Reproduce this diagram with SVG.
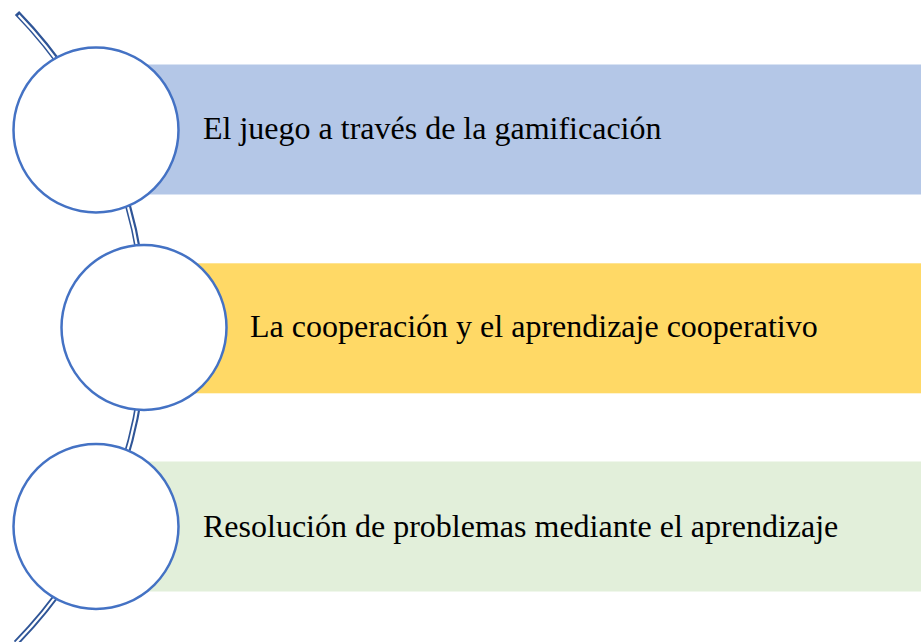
<svg xmlns="http://www.w3.org/2000/svg" width="921" height="642" viewBox="0 0 921 642">
<style>
.circ{fill:#FFFFFF;stroke:#4472C4;stroke-width:2.5}
.lbl{font-family:"Liberation Serif","Times New Roman",serif;font-size:32px;fill:#000000}
.arcO{fill:none;stroke:#2F5597;stroke-width:6}
.arcI{fill:none;stroke:#FFFFFF;stroke-width:2.2}
</style>
<rect width="921" height="642" fill="#FFFFFF"/>
<g id="bars">
<rect id="bar1" x="96" y="64.5" width="825" height="130" fill="#B4C7E7"/>
<rect id="bar2" x="144" y="263.3" width="777" height="130" fill="#FFD966"/>
<rect id="bar3" x="96" y="461.5" width="825" height="130" fill="#E2EFDA"/>
</g>
<g id="connectors">
<path class="arcO" d="M 17 13 A 451 451 0 0 1 16 643"/>
<path class="arcI" d="M 18.6 15.2 A 451 451 0 0 1 16 643"/>
</g>
<g id="node1">
<circle class="circ" cx="96" cy="130" r="82.5"/>
<text class="lbl" x="203" y="139">El juego a través de la gamificación</text>
</g>
<g id="node2">
<circle class="circ" cx="144" cy="327.5" r="82.5"/>
<text class="lbl" x="250" y="337">La cooperación y el aprendizaje cooperativo</text>
</g>
<g id="node3">
<circle class="circ" cx="96" cy="526.5" r="82.5"/>
<text class="lbl" x="203" y="537">Resolución de problemas mediante el aprendizaje</text>
</g>
</svg>
